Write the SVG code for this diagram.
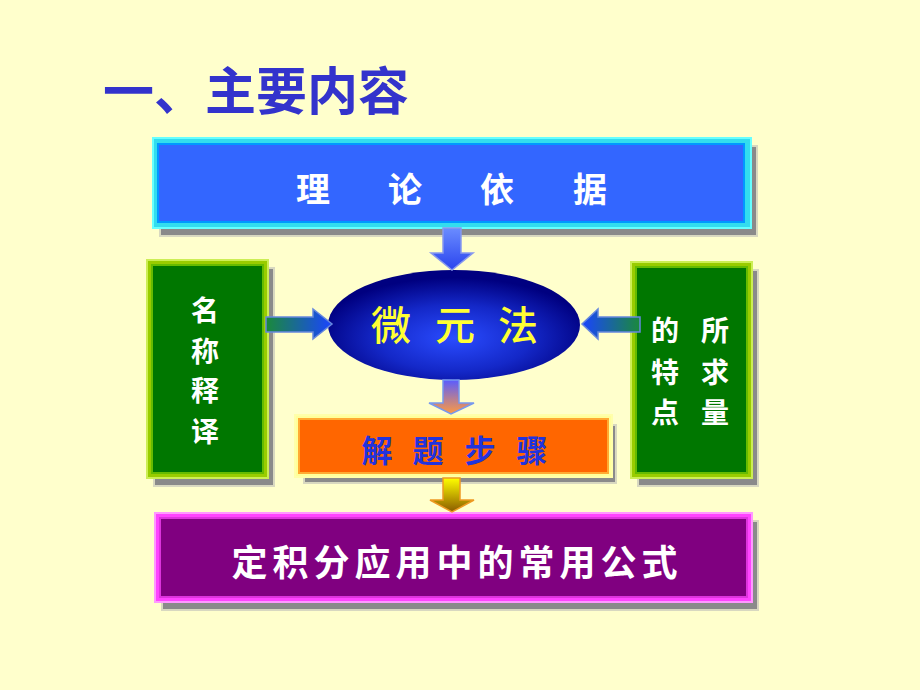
<svg xmlns="http://www.w3.org/2000/svg" width="920" height="690" viewBox="0 0 920 690">
<style>
.cjk{font-family:"Noto Sans CJK SC","Noto Sans",sans-serif;font-weight:bold}
.shadow{fill:#8a8a8a;stroke:#d8d8c0;stroke-width:2}
.w{fill:#ffffff}
</style>
<defs>
<radialGradient id="eg" cx="0.5" cy="0.62" r="0.55">
<stop offset="0" stop-color="#2a4cff"/>
<stop offset="0.55" stop-color="#1428c8"/>
<stop offset="1" stop-color="#000080"/>
</radialGradient>
<linearGradient id="gDown1" x1="0" y1="0" x2="0" y2="1">
<stop offset="0" stop-color="#6a8cff"/>
<stop offset="1" stop-color="#2a44ee"/>
</linearGradient>
<linearGradient id="gRight" x1="0" y1="0" x2="1" y2="0">
<stop offset="0" stop-color="#1a8a3a"/>
<stop offset="1" stop-color="#1a44ff"/>
</linearGradient>
<linearGradient id="gLeft" x1="1" y1="0" x2="0" y2="0">
<stop offset="0" stop-color="#1a8a3a"/>
<stop offset="1" stop-color="#1a44ff"/>
</linearGradient>
<linearGradient id="gDown2" x1="0" y1="0" x2="0" y2="1">
<stop offset="0" stop-color="#5a5cff"/>
<stop offset="1" stop-color="#ff9a40"/>
</linearGradient>
<linearGradient id="gDown3" x1="0" y1="0" x2="0" y2="1">
<stop offset="0" stop-color="#ffff00"/>
<stop offset="1" stop-color="#8a5a00"/>
</linearGradient>
</defs>
<rect width="920" height="690" fill="#ffffcc"/>

<g id="title">
<text class="cjk" x="103" y="110" font-size="51" fill="#3333cc">一、主要内容</text>
</g>

<g id="node-basis">
<rect class="shadow" x="160" y="146" width="597" height="90"/>
<rect x="153" y="138" width="598" height="90" fill="#33ddee" stroke="#66ffff" stroke-width="2"/>
<rect x="158" y="144" width="586" height="78" fill="#3366ff" stroke="#0099ff" stroke-width="2"/>
<text class="cjk w" x="313 405 497 590" y="202" font-size="34" text-anchor="middle">理论依据</text>
</g>

<g id="node-terms">
<rect class="shadow" x="154" y="268" width="120" height="218"/>
<rect x="147" y="260" width="121" height="218" fill="#99cc00" stroke="#ccee55" stroke-width="2"/>
<rect x="152" y="265" width="111" height="208" fill="#007700" stroke="#66bb00" stroke-width="2"/>
<text class="cjk w" x="205" y="321" font-size="28" text-anchor="middle">名</text>
<text class="cjk w" x="205" y="362" font-size="28" text-anchor="middle">称</text>
<text class="cjk w" x="205" y="401" font-size="28" text-anchor="middle">释</text>
<text class="cjk w" x="205" y="442" font-size="28" text-anchor="middle">译</text>
</g>

<g id="node-features">
<rect class="shadow" x="638" y="270" width="120" height="216"/>
<rect x="631" y="262" width="121" height="216" fill="#99cc00" stroke="#ccee55" stroke-width="2"/>
<rect x="636" y="267" width="111" height="206" fill="#007700" stroke="#66bb00" stroke-width="2"/>
<text class="cjk w" x="665 715" y="341" font-size="28" text-anchor="middle">的所</text>
<text class="cjk w" x="665 715" y="383" font-size="28" text-anchor="middle">特求</text>
<text class="cjk w" x="665 715" y="423" font-size="28" text-anchor="middle">点量</text>
</g>

<g id="node-method">
<ellipse cx="454" cy="325" rx="126" ry="55" fill="url(#eg)"/>
<text class="cjk" x="391 455 518" y="340" font-size="40" fill="#ffff33" style="font-weight:500" text-anchor="middle">微元法</text>
</g>

<g id="node-steps">
<rect class="shadow" x="304" y="425" width="312" height="58"/>
<rect x="295" y="415" width="317" height="62" fill="#ffff99" stroke="#ffffaa" stroke-width="2"/>
<rect x="299" y="419" width="309" height="54" fill="#ff6600" stroke="#ffaa33" stroke-width="2"/>
<text class="cjk" x="377 428 480 532" y="462" font-size="31" fill="#2233dd" text-anchor="middle">解题步骤</text>
</g>

<g id="node-formulas">
<rect class="shadow" x="162" y="521" width="596" height="89"/>
<rect x="155" y="513" width="597" height="89" fill="#ff44ff" stroke="#ff99ff" stroke-width="2"/>
<rect x="160" y="518" width="587" height="79" fill="#800080" stroke="#dd33dd" stroke-width="2"/>
<text class="cjk w" x="457" y="576" font-size="36" text-anchor="middle" letter-spacing="5">定积分应用中的常用公式</text>
</g>

<g id="connectors" stroke-width="1.5" stroke-linejoin="miter">
<polygon points="443,228 461,228 461,253 473,253 452,270 431,253 443,253" fill="url(#gDown1)" stroke="#8899ee"/>
<polygon points="266,317 313,317 313,309 332,324 313,339 313,332 266,332" fill="url(#gRight)" stroke="#6688dd"/>
<polygon points="640,317 598,317 598,309 582,324 598,339 598,332 640,332" fill="url(#gLeft)" stroke="#6688dd"/>
<polygon points="443,380 459,380 459,403 474,403 451,414 429,403 443,403" fill="url(#gDown2)" stroke="#7799ee"/>
<polygon points="443,478 460,478 460,500 474,500 452,512 430,500 443,500" fill="url(#gDown3)" stroke="#ee9922"/>
</g>
</svg>
